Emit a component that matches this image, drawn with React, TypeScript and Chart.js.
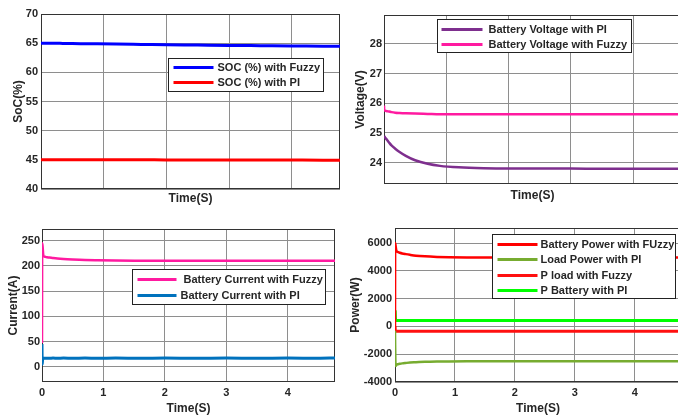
import React, { useEffect, useRef } from "react";
import { Chart, registerables } from "chart.js";

Chart.register(...registerables);

// ---------------- data ----------------
const TIME = [0, 0.003, 0.01, 0.02, 0.03, 0.05, 0.08, 0.12, 0.18, 0.25, 0.35, 0.5, 0.7, 0.9, 1.2, 1.6, 2.0, 2.5, 3.0, 3.5, 4.0, 4.5, 4.77];
const X_RANGE = [0, 4.77];
const X_TICKS = [0, 1, 2, 3, 4];

const SOC_FUZZY = [65.0, 65.0, 65.0, 65.0, 65.0, 65.0, 64.99, 64.99, 64.98, 64.97, 64.96, 64.94, 64.91, 64.88, 64.84, 64.79, 64.74, 64.68, 64.62, 64.57, 64.52, 64.48, 64.45];
const SOC_PI = [45.0, 45.0, 45.0, 45.0, 45.0, 45.0, 45.0, 45.0, 45.0, 45.0, 45.0, 45.0, 45.0, 45.0, 45.0, 45.0, 44.99, 44.99, 44.98, 44.97, 44.96, 44.95, 44.95];
const SOC_RANGE = [40, 70];
const SOC_TICKS = [40, 45, 50, 55, 60, 65, 70];

const VOLT_PI = [24.9, 24.89, 24.87, 24.84, 24.81, 24.76, 24.68, 24.58, 24.47, 24.36, 24.23, 24.08, 23.96, 23.89, 23.84, 23.81, 23.8, 23.8, 23.8, 23.79, 23.79, 23.79, 23.79];
const VOLT_FUZZY = [25.92, 25.78, 25.76, 25.75, 25.74, 25.73, 25.72, 25.7, 25.68, 25.67, 25.66, 25.65, 25.64, 25.63, 25.63, 25.63, 25.63, 25.63, 25.63, 25.63, 25.63, 25.63, 25.63];
const VOLT_RANGE = [23.28, 28.97];
const VOLT_TICKS = [24, 25, 26, 27, 28];

const CURR_FUZZY = [47, 245, 238, 222, 219, 218, 217, 216.5, 215.5, 214.5, 213.5, 212.5, 211.5, 211, 210.5, 210.2, 210, 210, 210, 210, 210, 210, 210];
const CURR_PI = [45, 5, 14, 16, 17, 17, 17, 17, 17.5, 17, 17.5, 17, 17.5, 17, 17.5, 17, 17.5, 17, 17.5, 17, 17.5, 17, 17.5];
const CURR_RANGE = [-30, 273];
const CURR_TICKS = [0, 50, 100, 150, 200, 250];

const PBAT_FUZZY = [-300, 6000, 5800, 5500, 5400, 5350, 5300, 5250, 5200, 5150, 5090, 5040, 5000, 4975, 4960, 4955, 4950, 4950, 4950, 4950, 4950, 4950, 4950];
const PLOAD_PI = [-300, -1500, -2850, -2800, -2750, -2720, -2690, -2660, -2630, -2600, -2580, -2550, -2530, -2520, -2510, -2500, -2500, -2500, -2500, -2500, -2500, -2500, -2500];
const PLOAD_FUZZY = [0, -300, -350, -350, -350, -350, -350, -350, -350, -350, -350, -350, -350, -350, -350, -350, -350, -350, -350, -350, -350, -350, -350];
const PBAT_PI = [1150, 1100, 450, 420, 420, 420, 420, 420, 420, 420, 420, 420, 420, 420, 420, 420, 420, 420, 420, 420, 420, 420, 420];
const POWER_RANGE = [-4000, 7080];
const POWER_TICKS = [-4000, -2000, 0, 2000, 4000, 6000];

// ---------------- styling ----------------
const FONT = '"Liberation Sans", Arial, Helvetica, sans-serif';
const TEXT = "#262626";
const GRID = "#8e8e8e";
const BOX = "#333333";
const PAD_T = 10;
const PAD_R = 10;

type Series = { label: string; data: number[]; color: string; width: number };
type LegendSpec = { x: number; y: number; w: number; h: number; rows: number[]; line: [number, number]; text: number };
type PanelSpec = {
  id: string;
  left: number; top: number; w: number; h: number;
  yW: number; xH: number; yPad: number; xPad: number;
  showX: boolean;
  yTitle: string;
  yRange: number[];
  yTicks: number[];
  series: Series[];
  legend: LegendSpec;
};

const PANELS: PanelSpec[] = [
  {
    id: "soc", left: 41, top: 14, w: 299, h: 175, yW: 30, xH: 17, yPad: 3, xPad: 4, showX: false,
    yTitle: "SoC(%)", yRange: SOC_RANGE, yTicks: SOC_TICKS,
    series: [
      { label: "SOC (%) with Fuzzy", data: SOC_FUZZY, color: "#0000ff", width: 3 },
      { label: "SOC (%) with PI", data: SOC_PI, color: "#ff0000", width: 3 },
    ],
    legend: { x: 127, y: 44, w: 155, h: 33, rows: [9, 24], line: [5, 45], text: 49 },
  },
  {
    id: "volt", left: 384, top: 15, w: 297, h: 169, yW: 31, xH: 19, yPad: 2, xPad: 4, showX: false,
    yTitle: "Voltage(V)", yRange: VOLT_RANGE, yTicks: VOLT_TICKS,
    series: [
      { label: "Battery Voltage with PI", data: VOLT_PI, color: "#7e2f8e", width: 2.5 },
      { label: "Battery Voltage with Fuzzy", data: VOLT_FUZZY, color: "#ff1aa0", width: 2.5 },
    ],
    legend: { x: 53, y: 4, w: 194, h: 33, rows: [10, 25], line: [4, 45], text: 51 },
  },
  {
    id: "curr", left: 42, top: 229, w: 293, h: 153, yW: 36, xH: 34, yPad: 2, xPad: 4, showX: true,
    yTitle: "Current(A)", yRange: CURR_RANGE, yTicks: CURR_TICKS,
    series: [
      { label: " Battery Current with Fuzzy", data: CURR_FUZZY, color: "#ff1aa0", width: 2.5 },
      { label: "Battery Current with PI", data: CURR_PI, color: "#0072bd", width: 3 },
    ],
    legend: { x: 90, y: 40, w: 193, h: 35, rows: [10, 26], line: [5, 44], text: 48 },
  },
  {
    id: "power", left: 395, top: 228, w: 286, h: 154, yW: 47, xH: 34, yPad: 3, xPad: 4, showX: true,
    yTitle: "Power(W)", yRange: POWER_RANGE, yTicks: POWER_TICKS,
    series: [
      { label: "Battery Power with FUzzy", data: PBAT_FUZZY, color: "#ff0000", width: 2.5 },
      { label: "Load Power with PI", data: PLOAD_PI, color: "#77ac30", width: 2.5 },
      { label: "P load with Fuzzy", data: PLOAD_FUZZY, color: "#ff1010", width: 3 },
      { label: "P Battery with PI", data: PBAT_PI, color: "#00ff00", width: 3 },
    ],
    legend: { x: 97, y: 6, w: 183, h: 64, rows: [10, 25, 41, 56], line: [5, 45], text: 48 },
  },
];

function makeOverlay(p: PanelSpec) {
  return {
    id: "overlay_" + p.id,
    beforeDatasetsDraw(chart: any) {
      const { ctx, chartArea: a } = chart;
      ctx.save();
      ctx.strokeStyle = BOX;
      ctx.lineWidth = 1;
      ctx.strokeRect(a.left + 0.5, a.top + 0.5, a.right - a.left - 1, a.bottom - a.top - 1);
      ctx.restore();
    },
    afterDraw(chart: any) {
      const { ctx, chartArea: a } = chart;
      ctx.save();
      const L = p.legend;
      const bx = Math.round(a.left + L.x) + 0.5;
      const by = Math.round(a.top + L.y) + 0.5;
      ctx.fillStyle = "#ffffff";
      ctx.fillRect(bx, by, L.w, L.h);
      ctx.strokeStyle = "#222222";
      ctx.lineWidth = 1;
      ctx.strokeRect(bx, by, L.w, L.h);
      ctx.font = "bold 11px " + FONT;
      ctx.textBaseline = "middle";
      ctx.textAlign = "left";
      chart.data.datasets.forEach((ds: any, i: number) => {
        const ry = by + L.rows[i];
        ctx.strokeStyle = ds.borderColor;
        ctx.lineWidth = 3;
        ctx.beginPath();
        ctx.moveTo(bx + L.line[0], ry);
        ctx.lineTo(bx + L.line[1], ry);
        ctx.stroke();
        ctx.fillStyle = TEXT;
        ctx.fillText(ds.label, bx + L.text, ry + 0.5);
      });
      ctx.restore();
    },
  };
}

function PanelChart({ p }: { p: PanelSpec }) {
  const ref = useRef<HTMLCanvasElement>(null);
  const cw = p.yW + p.w + PAD_R;
  const ch = PAD_T + p.h + p.xH;

  useEffect(() => {
    const tickFont = { family: FONT, size: 11, weight: "bold" as const };
    const titleFont = { family: FONT, size: 12, weight: "bold" as const };
    const chart = new Chart(ref.current!, {
      type: "line",
      data: {
        datasets: p.series.map((s) => ({
          label: s.label,
          data: TIME.map((t, i) => ({ x: t, y: s.data[i] })),
          borderColor: s.color,
          backgroundColor: s.color,
          borderWidth: s.width,
          pointRadius: 0,
          fill: false,
          cubicInterpolationMode: "monotone" as const,
        })),
      },
      options: {
        animation: false,
        responsive: false,
        devicePixelRatio: 1,
        events: [],
        layout: { padding: { top: PAD_T, right: PAD_R, left: 0, bottom: 0 } },
        plugins: { legend: { display: false }, tooltip: { enabled: false } },
        scales: {
          x: {
            type: "linear",
            min: X_RANGE[0],
            max: X_RANGE[1],
            afterBuildTicks: (s: any) => { s.ticks = X_TICKS.map((v) => ({ value: v })); },
            afterFit: (s: any) => { s.height = p.xH; },
            ticks: { display: p.showX, font: tickFont, color: TEXT, padding: p.xPad, autoSkip: false, maxRotation: 0, callback: (v: any) => String(v) },
            grid: { color: GRID, drawTicks: false, lineWidth: 1 },
            border: { display: false },
            title: { display: true, text: "Time(S)", font: titleFont, color: TEXT, padding: 0 },
          },
          y: {
            type: "linear",
            min: p.yRange[0],
            max: p.yRange[1],
            afterBuildTicks: (s: any) => { s.ticks = p.yTicks.map((v) => ({ value: v })); },
            afterFit: (s: any) => { s.width = p.yW; },
            ticks: { font: tickFont, color: TEXT, padding: p.yPad, autoSkip: false, callback: (v: any) => String(v) },
            grid: { color: GRID, drawTicks: false, lineWidth: 1 },
            border: { display: false },
            title: { display: true, text: p.yTitle, font: titleFont, color: TEXT, padding: 0 },
          },
        },
      },
      plugins: [makeOverlay(p)],
    });
    return () => chart.destroy();
  }, []);

  return (
    <canvas
      ref={ref}
      width={cw}
      height={ch}
      style={{ position: "absolute", left: p.left - p.yW, top: p.top - PAD_T, width: cw, height: ch }}
    />
  );
}

export default function App() {
  return (
    <div style={{ position: "fixed", left: 0, top: 0, width: 678, height: 416, overflow: "hidden", background: "#ffffff" }}>
      {PANELS.map((p) => (
        <PanelChart key={p.id} p={p} />
      ))}
    </div>
  );
}
